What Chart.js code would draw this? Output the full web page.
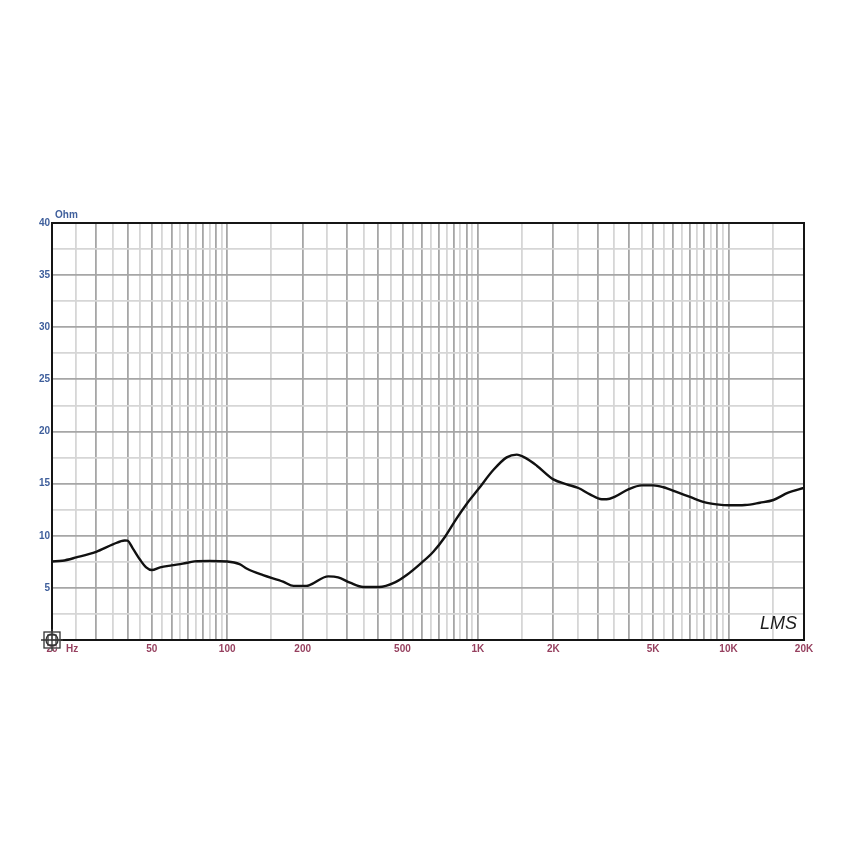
<!DOCTYPE html>
<html>
<head>
<meta charset="utf-8">
<title>Impedance</title>
<script src="https://cdn.jsdelivr.net/npm/chart.js@4"></script>
<style>
  html, body { margin: 0; background: #fff; }
  canvas { display: block; }
</style>
</head>
<body>
<canvas id="grafico" width="850" height="850"></canvas>
<script>
const frecuencias = [20, 22, 25, 30, 35, 39, 40, 42, 45, 47.5, 50, 54, 60, 66.5, 74, 85, 100, 112, 120, 139, 167, 184, 207,
  214, 253, 277, 309, 349, 403, 467, 520, 597, 664, 740, 823, 902, 1003, 1152, 1303, 1429, 1542, 1718, 2000, 2261, 2518,
  2800, 3120, 3265, 3525, 3983, 4500, 5010, 5495, 6310, 7020, 8060, 8970, 10040, 11640, 13340, 15100, 17300, 20000];
const ohmios = [7.53, 7.6, 7.92, 8.46, 9.17, 9.55, 9.53, 8.79, 7.67, 6.97, 6.71, 6.97, 7.16, 7.32, 7.54, 7.58, 7.53, 7.28, 6.83, 6.22, 5.6, 5.19, 5.19,
  5.28, 6.1, 6.01, 5.5, 5.08, 5.08, 5.53, 6.23, 7.42, 8.47, 9.91, 11.67, 13.05, 14.45, 16.3, 17.52, 17.78, 17.49, 16.72, 15.41, 14.93, 14.58,
  13.97, 13.5, 13.5, 13.75, 14.45, 14.83, 14.83, 14.65, 14.13, 13.72, 13.2, 13.01, 12.92, 12.95, 13.17, 13.43, 14.13, 14.58];

const lineasX = [20, 25, 30, 35, 40, 45, 50, 55, 60, 65, 70, 75, 80, 85, 90, 95,
  100, 150, 200, 250, 300, 350, 400, 450, 500, 550, 600, 650, 700, 750, 800, 850, 900, 950,
  1000, 1500, 2000, 2500, 3000, 3500, 4000, 4500, 5000, 5500, 6000, 6500, 7000, 7500, 8000, 8500, 9000, 9500,
  10000, 15000, 20000];
const etiquetasX = { 20: "20", 50: "50", 100: "100", 200: "200", 500: "500", 1000: "1K", 2000: "2K", 5000: "5K", 10000: "10K", 20000: "20K" };
const etiquetasY = [5, 10, 15, 20, 25, 30, 35, 40];

const fuente = { family: "'Liberation Sans', Arial, sans-serif", size: 10, weight: "bold" };
const azul = "#3f5f9c";
const granate = "#96405f";
const gridFuerte = "#a6a6a6";
const gridSuave = "#d6d6d6";

// marco, textos sueltos y el logo de la esquina
const extras = {
  id: "extras",
  afterDraw(chart) {
    const { ctx, chartArea: a } = chart;
    ctx.save();
    ctx.strokeStyle = "#151515";
    ctx.lineWidth = 2;
    ctx.strokeRect(a.left, a.top, a.right - a.left, a.bottom - a.top);

    ctx.font = "bold 10px 'Liberation Sans', Arial, sans-serif";
    ctx.fillStyle = azul;
    ctx.textBaseline = "middle";
    ctx.fillText("Ohm", 55, 215);
    ctx.fillStyle = granate;
    ctx.fillText("Hz", 66, 649);

    ctx.font = "italic 18px 'Liberation Sans', sans-serif";
    ctx.fillStyle = "#1c1c1c";
    ctx.fillText("LMS", 760, 624);

    // logo
    const cx = 52, cy = 640;
    ctx.fillStyle = "rgba(255,255,255,0.6)";
    ctx.fillRect(cx - 9, cy - 9, 18, 18);
    ctx.strokeStyle = "#333";
    ctx.lineWidth = 1.3;
    ctx.strokeRect(cx - 8, cy - 8, 16, 16);
    ctx.strokeRect(cx - 4, cy - 5, 8, 10);
    ctx.beginPath();
    ctx.arc(cx, cy, 6, 0, Math.PI * 2);
    ctx.moveTo(cx - 11, cy);
    ctx.lineTo(cx + 11, cy);
    ctx.moveTo(cx, cy - 11);
    ctx.lineTo(cx, cy + 11);
    ctx.stroke();
    ctx.restore();
  }
};

function esSuave(v) {
  const d = Math.pow(10, Math.floor(Math.log10(v) + 1e-9));
  return v / d % 1 !== 0;
}

new Chart(document.querySelector("#grafico"), {
  type: "line",
  data: {
    datasets: [{
      data: frecuencias.map((f, i) => ({ x: f, y: ohmios[i] })),
      borderColor: "#111",
      borderWidth: 2.4,
      pointRadius: 0,
      cubicInterpolationMode: "monotone"
    }]
  },
  options: {
    responsive: false,
    animation: false,
    layout: { padding: { top: 223, right: 46, bottom: 196, left: 0 } },
    plugins: { legend: { display: false }, tooltip: { enabled: false } },
    scales: {
      x: {
        type: "logarithmic",
        min: 20,
        max: 20000,
        afterBuildTicks(scale) { scale.ticks = lineasX.map(v => ({ value: v })); },
        afterFit(scale) { scale.height = 14; },
        grid: {
          drawTicks: false,
          color: ctx => (esSuave(ctx.tick.value) ? gridSuave : gridFuerte),
          lineWidth: 1.8
        },
        border: { display: false },
        ticks: {
          autoSkip: false,
          maxRotation: 0,
          padding: 3,
          color: granate,
          font: fuente,
          callback: v => etiquetasX[v] || ""
        }
      },
      y: {
        min: 0,
        max: 40,
        afterBuildTicks(scale) {
          const t = [];
          for (let v = 0; v <= 40; v += 2.5) t.push({ value: v });
          scale.ticks = t;
        },
        afterFit(scale) { scale.width = 52; },
        grid: {
          drawTicks: false,
          color: ctx => (ctx.tick.value % 5 === 0 ? gridFuerte : gridSuave),
          lineWidth: 1.8
        },
        border: { display: false },
        ticks: {
          padding: 2,
          color: azul,
          font: fuente,
          callback: v => (etiquetasY.includes(v) ? String(v) : "")
        }
      }
    }
  },
  plugins: [extras]
});
</script>
</body>
</html>
